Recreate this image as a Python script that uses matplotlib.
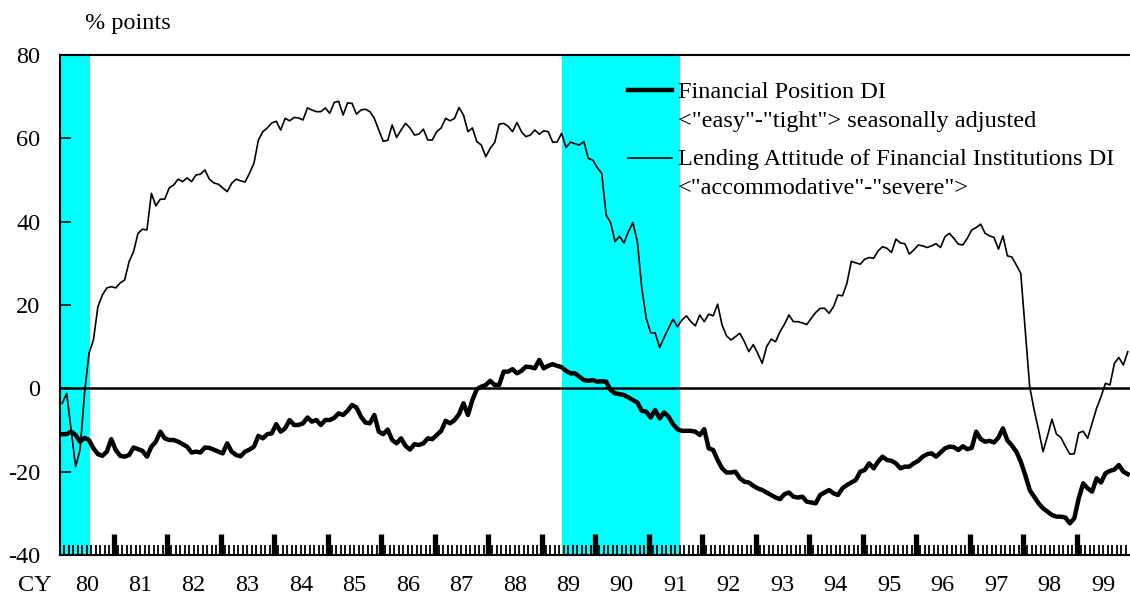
import numpy as np
import matplotlib.pyplot as plt
import matplotlib.transforms as mtransforms
from matplotlib.lines import Line2D

plt.rcParams['font.family'] = ['Liberation Serif', 'DejaVu Serif']

# monthly DI values, Jan 1980 - Dec 1999 (% points)
financial_position = [
    -11.0, -11.0, -10.4, -11.2, -12.8, -11.9, -12.4, -14.4, -15.8, -16.2, -15.2, -12.2,
    -14.8, -16.2, -16.4, -16.0, -14.2, -14.6, -15.0, -16.4, -14.0, -12.8, -10.4, -12.0,
    -12.4, -12.4, -12.8, -13.4, -14.0, -15.4, -15.2, -15.4, -14.2, -14.3, -14.7, -15.2,
    -15.6, -13.2, -15.2, -16.0, -16.3, -15.2, -14.7, -14.0, -11.4, -12.0, -11.0, -10.8,
    -8.6, -10.4, -9.6, -7.6, -8.8, -8.8, -8.4, -7.0, -8.0, -7.6, -8.8, -7.6,
    -7.6, -7.1, -6.0, -6.4, -5.4, -4.0, -4.6, -6.8, -8.2, -8.4, -6.4, -10.4,
    -11.0, -9.9, -12.4, -13.2, -12.0, -13.8, -14.7, -13.4, -13.6, -13.2, -12.0, -12.2,
    -11.2, -10.2, -7.8, -8.4, -7.6, -6.2, -3.6, -6.4, -2.8, -0.2, 0.4, 0.8,
    1.8, 0.8, 0.8, 4.0, 4.0, 4.6, 3.6, 4.2, 5.2, 5.1, 4.8, 6.8,
    4.8, 5.4, 5.8, 5.4, 5.1, 4.2, 3.6, 3.6, 2.8, 2.0, 1.8, 2.0,
    1.6, 1.7, 1.6, -0.4, -1.2, -1.4, -1.6, -2.2, -2.8, -3.4, -5.4, -5.6,
    -7.0, -5.2, -7.2, -5.8, -6.8, -8.6, -9.8, -10.2, -10.2, -10.2, -10.4, -11.2,
    -9.8, -14.4, -14.8, -17.2, -19.2, -20.2, -20.2, -20.0, -21.6, -22.4, -22.6, -23.4,
    -24.0, -24.4, -25.0, -25.6, -26.2, -26.6, -25.4, -25.0, -26.0, -26.2, -26.0, -27.2,
    -27.4, -27.6, -25.6, -25.0, -24.4, -25.2, -25.6, -24.0, -23.2, -22.6, -22.0, -20.0,
    -19.6, -18.0, -19.2, -17.6, -16.4, -17.2, -17.4, -18.0, -19.2, -18.8, -18.8, -18.0,
    -17.4, -16.4, -15.8, -15.6, -16.4, -15.4, -14.4, -14.0, -14.1, -14.8, -13.9, -14.6,
    -14.3, -10.4, -12.2, -12.8, -12.6, -13.0, -11.8, -9.6, -12.5, -13.7, -15.2, -17.6,
    -20.8, -24.4, -26.0, -27.6, -28.8, -29.6, -30.4, -30.8, -30.8, -31.0, -32.4, -31.2,
    -26.4, -22.8, -24.0, -24.8, -21.6, -22.6, -20.4, -19.8, -19.5, -18.4, -20.0, -20.6,
]

lending_attitude = [
    -3.6, -1.2, -10.0, -18.8, -14.8, -1.2, 8.4, 11.6, 19.6, 22.4, 24.1, 24.4,
    24.1, 25.3, 26.0, 30.4, 32.8, 37.2, 38.2, 38.0, 46.8, 43.8, 45.4, 45.4,
    48.1, 48.8, 50.2, 49.6, 50.5, 49.6, 51.2, 51.4, 52.4, 50.2, 49.3, 49.0,
    48.1, 47.2, 49.2, 50.2, 49.8, 49.5, 51.6, 54.0, 59.6, 61.6, 62.5, 63.7,
    64.1, 62.0, 64.8, 64.2, 65.0, 64.9, 64.4, 67.3, 66.8, 66.4, 66.4, 67.3,
    66.0, 68.6, 68.9, 65.6, 68.5, 68.4, 65.8, 66.8, 67.0, 66.4, 64.8, 62.0,
    59.3, 59.5, 63.2, 60.2, 62.0, 63.6, 62.5, 60.8, 61.0, 62.2, 59.6, 59.6,
    61.6, 62.5, 64.8, 64.2, 64.8, 67.4, 65.6, 61.6, 62.5, 59.2, 58.4, 55.6,
    57.6, 59.0, 63.4, 63.6, 62.9, 61.6, 63.8, 61.6, 60.4, 60.8, 62.0, 61.0,
    61.8, 61.6, 59.1, 59.1, 61.2, 57.8, 59.1, 58.7, 58.4, 59.2, 55.2, 54.8,
    53.0, 51.6, 41.6, 39.8, 35.2, 36.5, 34.9, 37.6, 39.8, 35.2, 24.0, 16.8,
    13.3, 13.3, 9.8, 12.2, 14.4, 16.6, 14.8, 16.4, 17.4, 16.0, 15.0, 17.6,
    16.0, 17.8, 17.4, 20.2, 15.2, 12.6, 11.6, 12.4, 13.2, 11.2, 8.8, 10.5,
    8.4, 6.0, 10.0, 11.8, 11.2, 13.6, 15.4, 17.6, 16.0, 16.0, 15.7, 15.3,
    16.8, 18.2, 19.2, 19.2, 18.0, 19.6, 22.4, 22.2, 25.2, 30.5, 30.1, 29.8,
    31.0, 31.4, 31.2, 33.0, 34.0, 33.6, 32.6, 35.8, 34.9, 34.7, 32.2, 33.2,
    34.4, 34.2, 33.8, 34.2, 34.7, 33.8, 36.4, 37.2, 36.0, 34.6, 34.4, 36.0,
    38.0, 38.6, 39.4, 37.2, 36.6, 36.2, 33.4, 36.6, 31.8, 31.5, 29.6, 27.6,
    14.0, 0.4, -5.2, -10.0, -15.2, -11.4, -7.4, -11.0, -11.8, -13.9, -15.8, -15.7,
    -10.7, -10.3, -12.0, -8.4, -4.8, -2.0, 1.2, 0.8, 6.0, 7.4, 5.6, 8.8,
]

# monetary tightening periods (shaded)
shade_periods = [(1980.0, 1980.56), (1989.38, 1991.59)]

years = list(range(1980, 2000))
year_labels = [str(y)[2:] for y in years]
y_ticks = [-40, -20, 0, 20, 40, 60, 80]
y_labels = ['-40', '-20', '0', '20', '40', '60', '80']

t = 1980 + (np.arange(len(financial_position)) + 0.5) / 12

fig = plt.figure(figsize=(11.3, 6.02), dpi=100)
ax = fig.add_axes([60 / 1130, 47 / 602, 1070 / 1130, 500 / 602])

for start, end in shade_periods:
    ax.axvspan(start, end, color='#00FFFF', lw=0, zorder=0)

ax.axhline(0, color='black', lw=1.8, zorder=2)
ax.plot(t, financial_position, color='black', lw=3.2, zorder=3, solid_joinstyle='round')
ax.plot(t, lending_attitude, color='black', lw=1.2, zorder=3)

ax.set_xlim(1980, 2000)
ax.set_ylim(-40, 80)

# axes frame
ax.spines['right'].set_visible(False)
for side in ['top', 'left', 'bottom']:
    ax.spines[side].set_linewidth(1.5)

# ticks
ax.set_xticks(years[1:])
ax.set_xticks([1980 + m / 12 for m in range(240) if m % 12 != 0], minor=True)
ax.tick_params(axis='x', which='major', direction='in', length=15, width=3.8,
               labelbottom=False)
ax.tick_params(axis='x', which='minor', direction='in', length=7.5, width=1.3)
ax.set_yticks(y_ticks)
ax.set_yticklabels(y_labels)
ax.tick_params(axis='y', direction='in', length=8, width=1.2, labelsize=17.5, pad=14)

# year labels share a baseline with "CY"
base_y = 1 - 591 / 602
label_trans = mtransforms.blended_transform_factory(ax.transData, fig.transFigure)
for yr, lab in zip(years, year_labels):
    ax.text(yr + 0.5, base_y, lab, transform=label_trans, ha='center', va='baseline',
            fontsize=17.5)
fig.text(35 / 1130, base_y, 'CY', ha='center', va='baseline', fontsize=17.5)
fig.text(85 / 1130, 1 - 23 / 602, '% points', ha='left', va='center', fontsize=17.5)

# legend
ax.add_line(Line2D([0.531, 0.572], [0.93, 0.93], transform=ax.transAxes,
                   color='black', lw=3.2))
ax.add_line(Line2D([0.531, 0.572], [0.794, 0.794], transform=ax.transAxes,
                   color='black', lw=1.2))
ax.text(0.5776, 0.926, 'Financial Position DI', transform=ax.transAxes,
        va='center', ha='left', fontsize=17.5)
ax.text(0.5776, 0.868, '<"easy"-"tight"> seasonally adjusted', transform=ax.transAxes,
        va='center', ha='left', fontsize=17.5)
ax.text(0.5776, 0.79, 'Lending Attitude of Financial Institutions DI', transform=ax.transAxes,
        va='center', ha='left', fontsize=17.5)
ax.text(0.5776, 0.732, '<"accommodative"-"severe">', transform=ax.transAxes,
        va='center', ha='left', fontsize=17.5)

fig.savefig('out.png', dpi=100)
